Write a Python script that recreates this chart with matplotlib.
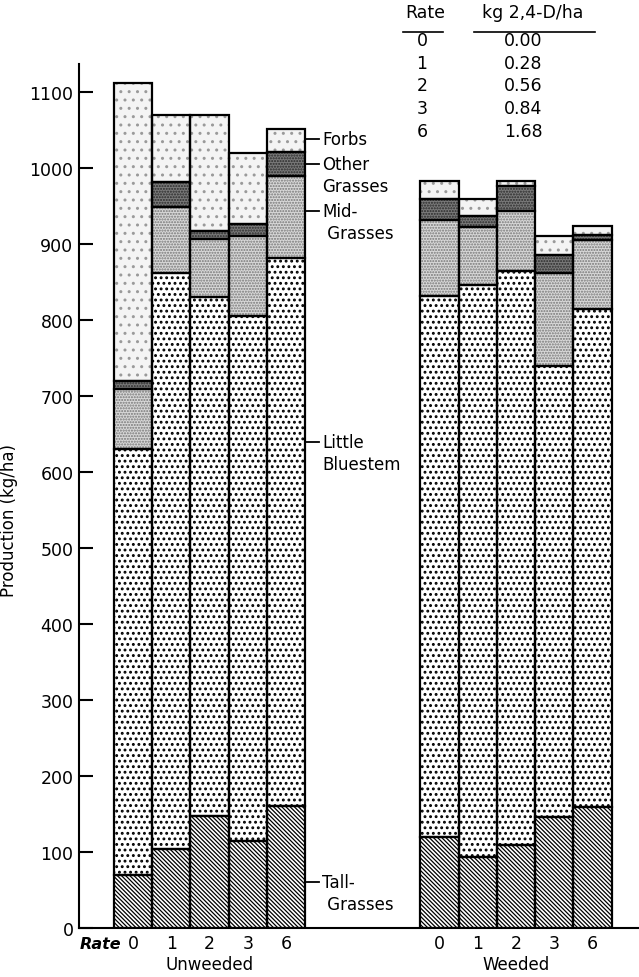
import numpy as np
import matplotlib
matplotlib.use("Agg")
import matplotlib.pyplot as plt

plt.rcParams['font.family'] = ['DejaVu Sans']
plt.rcParams['hatch.linewidth'] = 1.0

# herbicide rates (x tick labels) and the rate table
rates = ['0', '1', '2', '3', '6']
rate_kg = ['0.00', '0.28', '0.56', '0.84', '1.68']

# production by component, kg/ha (bottom -> top of each bar)
unweeded_tall = [70, 104, 148, 115, 160]
unweeded_bluestem = [560, 758, 682, 690, 722]
unweeded_mid = [79, 87, 77, 106, 107]
unweeded_other = [11, 33, 10, 15, 32]
unweeded_forbs = [392, 88, 153, 94, 30]

weeded_tall = [120, 93, 109, 146, 159]
weeded_bluestem = [712, 753, 756, 594, 656]
weeded_mid = [100, 76, 78, 122, 90]
weeded_other = [28, 15, 33, 24, 7]
weeded_forbs = [23, 23, 7, 24, 12]

# fill style of each component: (face, hatch colour, hatch, hatch width)
styles = {
    'tall': ('white', 'black', '\\' * 8, 0.9),
    'bluestem': ('white', 'black', '...', 1.3),
    'mid': ('#d8d8d8', '#777777', '......', 1.0),
    'other': ('#7a7a7a', '#2a2a2a', '......', 1.0),
    'forbs': ('#f4f4f4', '#9a9a9a', '..', 1.0),
}

fig = plt.figure(figsize=(6.39, 9.78), dpi=100)
ax = fig.add_axes([79 / 639, 1 - 929 / 978, 1 - 79 / 639, (929 - 65) / 978])

def draw_group(x0, parts):
    x = np.arange(len(rates)) + x0
    bottom = np.zeros(len(rates))
    for name, vals in parts:
        face, hcol, hatch, hlw = styles[name]
        vals = np.array(vals, dtype=float)
        with plt.rc_context({'hatch.linewidth': hlw}):
            bars = ax.bar(x, vals, bottom=bottom, width=1.0, color=face,
                          edgecolor=hcol, linewidth=0, hatch=hatch, zorder=2)
        for b in bars:
            if hasattr(b, 'set_hatch_linewidth'):
                b.set_hatch_linewidth(hlw)
        ax.bar(x, vals, bottom=bottom, width=1.0, fill=False,
               edgecolor='black', linewidth=1.6, zorder=3)
        bottom += vals
    return x

xu = draw_group(0, [('tall', unweeded_tall), ('bluestem', unweeded_bluestem),
                    ('mid', unweeded_mid), ('other', unweeded_other),
                    ('forbs', unweeded_forbs)])
xw = draw_group(8, [('tall', weeded_tall), ('bluestem', weeded_bluestem),
                    ('mid', weeded_mid), ('other', weeded_other),
                    ('forbs', weeded_forbs)])

ax.set_xlim((79 - 133) / 38.3, (639 - 133) / 38.3)
ax.set_ylim(0, 1137)

ax.set_yticks(np.arange(0, 1101, 100))
ax.set_yticklabels([str(v) for v in range(0, 1101, 100)], fontsize=12.5)
ax.tick_params(axis='y', direction='in', length=10, width=1.5, pad=4)
ax.set_xticks(list(xu) + list(xw))
ax.set_xticklabels(rates + rates, fontsize=12.5)
ax.tick_params(axis='x', length=0, pad=4)

for s in ['top', 'right']:
    ax.spines[s].set_visible(False)
ax.spines['left'].set_linewidth(1.5)
ax.spines['bottom'].set_linewidth(1.5)

ax.set_ylabel('Production (kg/ha)', fontsize=12)
ax.yaxis.set_label_coords((18 - 79) / 560, 538 / 1137)

# component labels beside the last unweeded bar
lab_x = (322 - 133) / 38.3
labels = [(1038, ['Forbs']), (1005, ['Other', 'Grasses']),
          (943, ['Mid-', ' Grasses']), (639, ['Little', 'Bluestem']),
          (60, ['Tall-', ' Grasses'])]
for yv, lines in labels:
    ax.plot([4.5, 4.85], [yv, yv], color='black', linewidth=1.3, zorder=4,
            clip_on=False)
    for i, t in enumerate(lines):
        ax.text(lab_x, yv - i * 28, t, fontsize=12, va='center', ha='left')

# bottom labels
ax.text((100 - 133) / 38.3, -21, 'Rate', fontsize=11.5, fontweight='bold',
        style='italic', ha='center', va='center')
ax.text(2, -48, 'Unweeded', fontsize=12, ha='center', va='center')
ax.text(10, -48, 'Weeded', fontsize=12, ha='center', va='center')

# rate table at the top right
fig.text(425 / 639, 1 - 13 / 978, 'Rate', fontsize=12.5, ha='center', va='center')
fig.text(533 / 639, 1 - 13 / 978, 'kg 2,4-D/ha', fontsize=12.5, ha='center', va='center')
fig.add_artist(plt.Line2D([403 / 639, 443 / 639], [1 - 33 / 978] * 2,
                          color='black', linewidth=1.2))
fig.add_artist(plt.Line2D([474 / 639, 595 / 639], [1 - 33 / 978] * 2,
                          color='black', linewidth=1.2))
for i, (r, kg) in enumerate(zip(rates, rate_kg)):
    yy = 1 - (41 + i * 22.7) / 978
    fig.text(422 / 639, yy, r, fontsize=12.5, ha='center', va='center')
    fig.text(523 / 639, yy, kg, fontsize=12.5, ha='center', va='center')

fig.savefig('out.png', dpi=100)
